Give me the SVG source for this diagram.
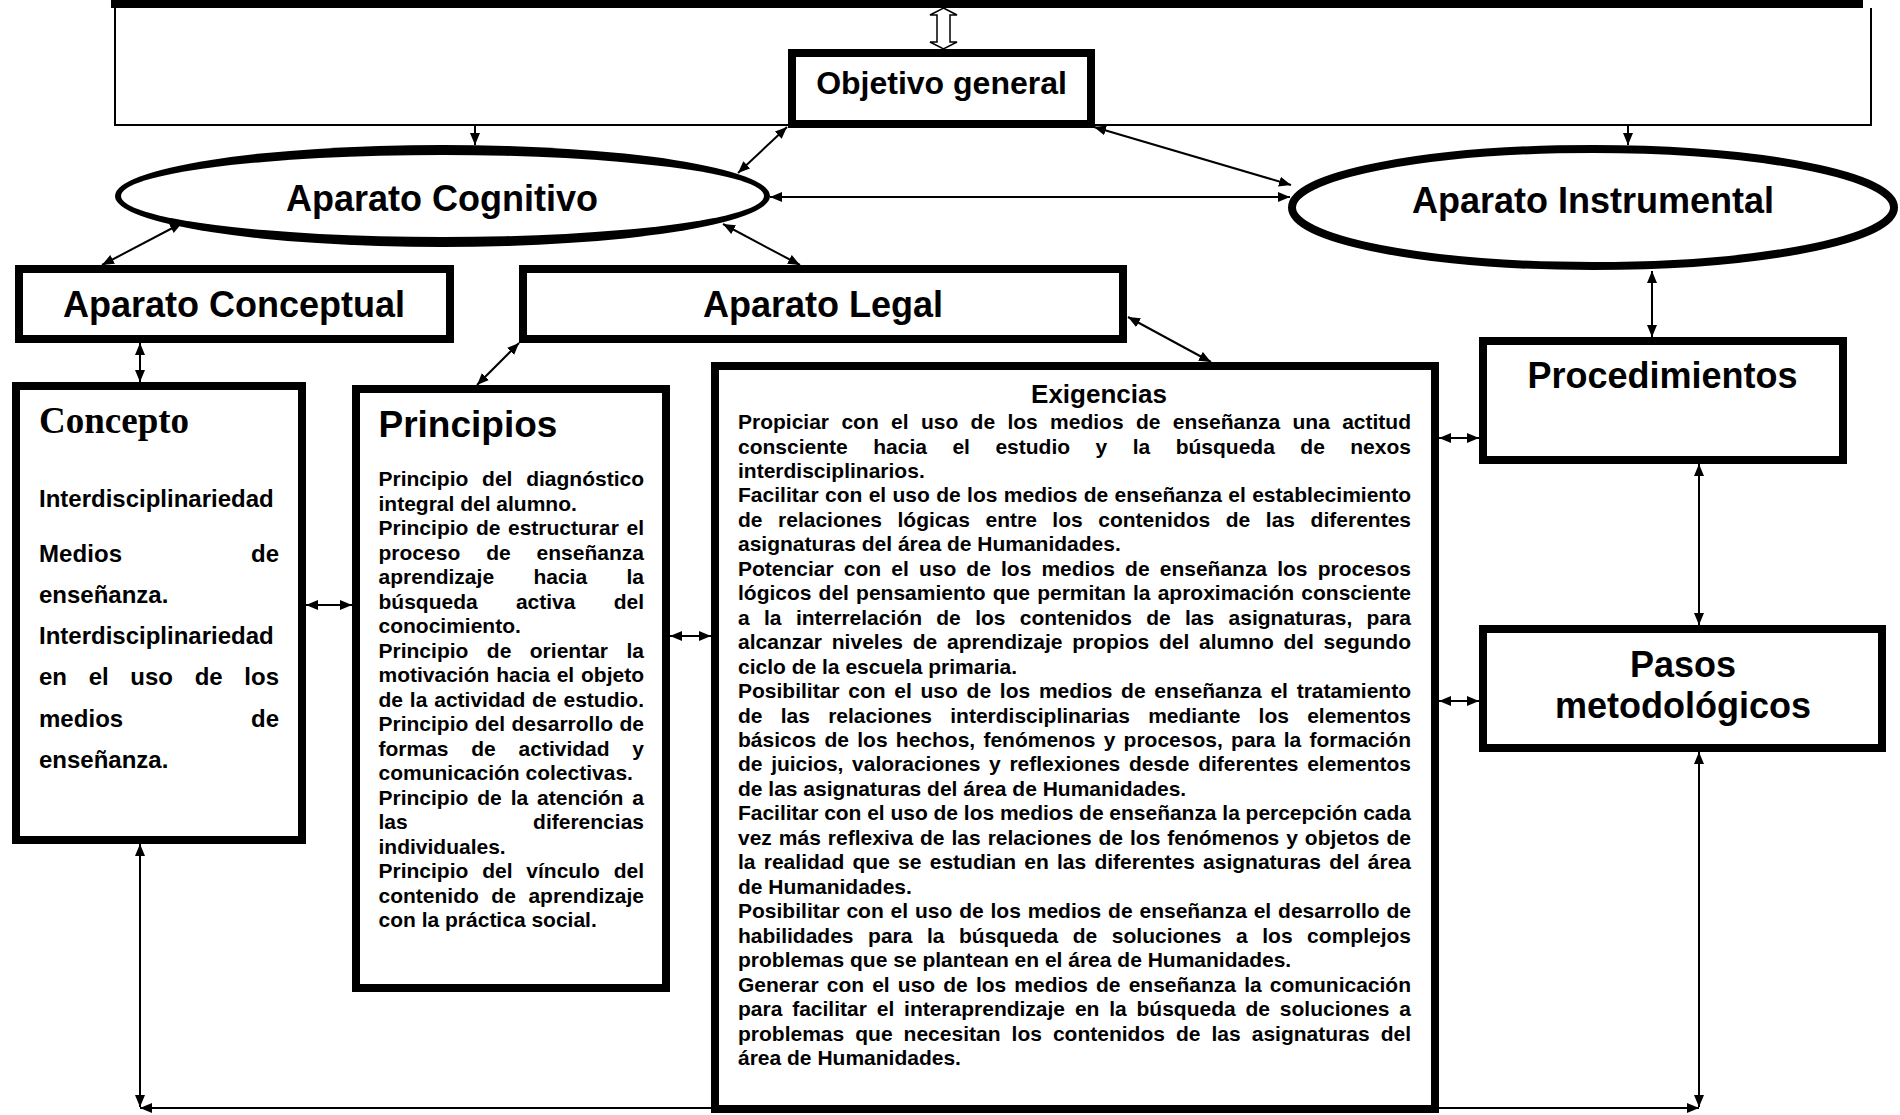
<svg xmlns="http://www.w3.org/2000/svg" width="1900" height="1115" viewBox="0 0 1900 1115">
<style>
.t{font-family:"Liberation Sans",Arial,sans-serif;font-weight:bold;fill:#000}
.h{font-size:36px}
.body{font-size:21px}
.con{font-size:24px}
.box{fill:#fff;stroke:#000;stroke-width:8}
.ell{fill:#fff;stroke:#000;stroke-width:8}
.c{stroke:#000;stroke-width:2;fill:none}
.cb{stroke:#000;stroke-width:2;fill:none;marker-start:url(#ah);marker-end:url(#ah)}
.ce{stroke:#000;stroke-width:2;fill:none;marker-end:url(#ah)}
</style>
<defs>
<marker id="ah" viewBox="0 0 12 10" refX="12" refY="5" markerWidth="12" markerHeight="10" markerUnits="userSpaceOnUse" orient="auto-start-reverse">
<path d="M0,0 L12,5 L0,10 z" fill="#000"/>
</marker>
</defs>
<rect width="1900" height="1115" fill="#fff"/>

<g id="connectors">
<path class="c" d="M115,8 V125 H1871 V8" stroke-width="1.5"/>
<line class="ce" x1="475" y1="125" x2="475" y2="145"/>
<line class="ce" x1="1628" y1="125" x2="1628" y2="145"/>
<polygon points="943.5,8 957,15 950,15 950,42 957,42 943.5,49 930,42 937,42 937,15 930,15" fill="#fff" stroke="#000" stroke-width="1.5"/>
<line class="cb" x1="738" y1="173" x2="787" y2="127"/>
<line class="cb" x1="1094" y1="127" x2="1291" y2="185"/>
<line class="cb" x1="770" y1="197" x2="1290" y2="197"/>
<line class="cb" x1="182" y1="223" x2="102" y2="265"/>
<line class="cb" x1="723" y1="224" x2="800" y2="265"/>
<line class="cb" x1="140" y1="343" x2="140" y2="382"/>
<line class="cb" x1="519" y1="343" x2="477" y2="385"/>
<line class="cb" x1="1128" y1="317" x2="1211" y2="362"/>
<line class="cb" x1="306" y1="605" x2="352" y2="605"/>
<line class="cb" x1="670" y1="636" x2="711" y2="636"/>
<line class="cb" x1="1439" y1="438" x2="1479" y2="438"/>
<line class="cb" x1="1439" y1="701" x2="1479" y2="701"/>
<line class="cb" x1="1652" y1="271" x2="1652" y2="337"/>
<line class="cb" x1="1699" y1="464" x2="1699" y2="625"/>
<line class="cb" x1="140" y1="844" x2="140" y2="1107"/>
<line class="cb" x1="140" y1="1108" x2="1699" y2="1108"/>
<line class="cb" x1="1699" y1="752" x2="1699" y2="1107"/>
</g>

<g id="top-box">
<rect x="111" y="0" width="1752" height="8" fill="#000"/>
</g>

<g id="objetivo-general">
<rect class="box" x="792" y="53" width="299" height="71"/>
<text class="t" x="941.5" y="94" font-size="32" text-anchor="middle">Objetivo general</text>
</g>

<g id="aparato-cognitivo">
<ellipse cx="442.5" cy="196" rx="327.5" ry="51" fill="#000"/>
<ellipse cx="442.5" cy="196" rx="321.5" ry="41" fill="#fff"/>
<text class="t h" x="442" y="211" text-anchor="middle">Aparato Cognitivo</text>
</g>

<g id="aparato-instrumental">
<ellipse class="ell" cx="1593" cy="207.5" rx="301" ry="58.5"/>
<text class="t h" x="1593" y="213" text-anchor="middle">Aparato Instrumental</text>
</g>

<g id="aparato-conceptual">
<rect class="box" x="19" y="269" width="431" height="70"/>
<text class="t h" x="234" y="317" text-anchor="middle">Aparato Conceptual</text>
</g>

<g id="aparato-legal">
<rect class="box" x="523" y="269" width="600" height="70"/>
<text class="t h" x="823" y="317" text-anchor="middle">Aparato Legal</text>
</g>

<g id="concepto">
<rect class="box" x="16" y="386" width="286" height="454"/>
<text x="39" y="433" font-family="'Liberation Serif','Times New Roman',serif" font-weight="bold" font-size="37">Concepto</text>
<text class="t con" x="39" y="507">Interdisciplinariedad</text>
<text class="t con" x="39" y="562" word-spacing="122" textLength="240" lengthAdjust="spacing">Medios de</text>
<text class="t con" x="39" y="603">enseñanza.</text>
<text class="t con" x="39" y="644">Interdisciplinariedad</text>
<text class="t con" x="39" y="685" word-spacing="15" textLength="240" lengthAdjust="spacing">en el uso de los</text>
<text class="t con" x="39" y="727" word-spacing="121" textLength="240" lengthAdjust="spacing">medios de</text>
<text class="t con" x="39" y="768">enseñanza.</text>
</g>

<g id="principios">
<rect class="box" x="356" y="389" width="310" height="599"/>
<text class="t" x="378.5" y="437" font-size="37">Principios</text>
<text class="t body" x="378.5" y="486" word-spacing="7.9" textLength="265.5" lengthAdjust="spacing">Principio del diagnóstico</text>
<text class="t body" x="378.5" y="510.5">integral del alumno.</text>
<text class="t body" x="378.5" y="535" word-spacing="1.7" textLength="265.5" lengthAdjust="spacing">Principio de estructurar el</text>
<text class="t body" x="378.5" y="559.5" word-spacing="20" textLength="265.5" lengthAdjust="spacing">proceso de enseñanza</text>
<text class="t body" x="378.5" y="584" word-spacing="33.5" textLength="265.5" lengthAdjust="spacing">aprendizaje hacia la</text>
<text class="t body" x="378.5" y="608.5" word-spacing="32.4" textLength="265.5" lengthAdjust="spacing">búsqueda activa del</text>
<text class="t body" x="378.5" y="633">conocimiento.</text>
<text class="t body" x="378.5" y="657.5" word-spacing="12.6" textLength="265.5" lengthAdjust="spacing">Principio de orientar la</text>
<text class="t body" x="378.5" y="682" word-spacing="1" textLength="265.5" lengthAdjust="spacing">motivación hacia el objeto</text>
<text class="t body" x="378.5" y="706.5" word-spacing="1" textLength="265.5" lengthAdjust="spacing">de la actividad de estudio.</text>
<text class="t body" x="378.5" y="731" word-spacing="0.6" textLength="265.5" lengthAdjust="spacing">Principio del desarrollo de</text>
<text class="t body" x="378.5" y="755.5" word-spacing="16.9" textLength="265.5" lengthAdjust="spacing">formas de actividad y</text>
<text class="t body" x="378.5" y="780">comunicación colectivas.</text>
<text class="t body" x="378.5" y="804.5" word-spacing="3.1" textLength="265.5" lengthAdjust="spacing">Principio de la atención a</text>
<text class="t body" x="378.5" y="829" word-spacing="119.6" textLength="265.5" lengthAdjust="spacing">las diferencias</text>
<text class="t body" x="378.5" y="853.5">individuales.</text>
<text class="t body" x="378.5" y="878" word-spacing="8" textLength="265.5" lengthAdjust="spacing">Principio del vínculo del</text>
<text class="t body" x="378.5" y="902.5" word-spacing="6.7" textLength="265.5" lengthAdjust="spacing">contenido de aprendizaje</text>
<text class="t body" x="378.5" y="927">con la práctica social.</text>
</g>

<g id="exigencias">
<rect class="box" x="715" y="366" width="720" height="743"/>
<text class="t" x="1099" y="403" font-size="26" text-anchor="middle">Exigencias</text>
<text class="t body" x="738" y="429" word-spacing="6.5" textLength="673" lengthAdjust="spacing">Propiciar con el uso de los medios de enseñanza una actitud</text>
<text class="t body" x="738" y="453.5" word-spacing="19.6" textLength="673" lengthAdjust="spacing">consciente hacia el estudio y la búsqueda de nexos</text>
<text class="t body" x="738" y="477.9">interdisciplinarios.</text>
<text class="t body" x="738" y="502.4" word-spacing="0.5" textLength="673" lengthAdjust="spacing">Facilitar con el uso de los medios de enseñanza el establecimiento</text>
<text class="t body" x="738" y="526.8" word-spacing="9.7" textLength="673" lengthAdjust="spacing">de relaciones lógicas entre los contenidos de las diferentes</text>
<text class="t body" x="738" y="551.3">asignaturas del área de Humanidades.</text>
<text class="t body" x="738" y="575.8" word-spacing="4.3" textLength="673" lengthAdjust="spacing">Potenciar con el uso de los medios de enseñanza los procesos</text>
<text class="t body" x="738" y="600.2" word-spacing="1.3" textLength="673" lengthAdjust="spacing">lógicos del pensamiento que permitan la aproximación consciente</text>
<text class="t body" x="738" y="624.7" word-spacing="8.5" textLength="673" lengthAdjust="spacing">a la interrelación de los contenidos de las asignaturas, para</text>
<text class="t body" x="738" y="649.1" word-spacing="3.9" textLength="673" lengthAdjust="spacing">alcanzar niveles de aprendizaje propios del alumno del segundo</text>
<text class="t body" x="738" y="673.6">ciclo de la escuela primaria.</text>
<text class="t body" x="738" y="698.1" word-spacing="2.9" textLength="673" lengthAdjust="spacing">Posibilitar con el uso de los medios de enseñanza el tratamiento</text>
<text class="t body" x="738" y="722.5" word-spacing="12.4" textLength="673" lengthAdjust="spacing">de las relaciones interdisciplinarias mediante los elementos</text>
<text class="t body" x="738" y="747" word-spacing="2.4" textLength="673" lengthAdjust="spacing">básicos de los hechos, fenómenos y procesos, para la formación</text>
<text class="t body" x="738" y="771.4" word-spacing="2.8" textLength="673" lengthAdjust="spacing">de juicios, valoraciones y reflexiones desde diferentes elementos</text>
<text class="t body" x="738" y="795.9">de las asignaturas del área de Humanidades.</text>
<text class="t body" x="738" y="820.4" textLength="673" lengthAdjust="spacing">Facilitar con el uso de los medios de enseñanza la percepción cada</text>
<text class="t body" x="738" y="844.8" word-spacing="1.1" textLength="673" lengthAdjust="spacing">vez más reflexiva de las relaciones de los fenómenos y objetos de</text>
<text class="t body" x="738" y="869.3" word-spacing="2.4" textLength="673" lengthAdjust="spacing">la realidad que se estudian en las diferentes asignaturas del área</text>
<text class="t body" x="738" y="893.7">de Humanidades.</text>
<text class="t body" x="738" y="918.2" word-spacing="1" textLength="673" lengthAdjust="spacing">Posibilitar con el uso de los medios de enseñanza el desarrollo de</text>
<text class="t body" x="738" y="942.7" word-spacing="8.7" textLength="673" lengthAdjust="spacing">habilidades para la búsqueda de soluciones a los complejos</text>
<text class="t body" x="738" y="967.1">problemas que se plantean en el área de Humanidades.</text>
<text class="t body" x="738" y="991.6" word-spacing="2.3" textLength="673" lengthAdjust="spacing">Generar con el uso de los medios de enseñanza la comunicación</text>
<text class="t body" x="738" y="1016" word-spacing="4" textLength="673" lengthAdjust="spacing">para facilitar el interaprendizaje en la búsqueda de soluciones a</text>
<text class="t body" x="738" y="1040.5" word-spacing="5.2" textLength="673" lengthAdjust="spacing">problemas que necesitan los contenidos de las asignaturas del</text>
<text class="t body" x="738" y="1065">área de Humanidades.</text>
</g>

<g id="procedimientos">
<rect class="box" x="1483" y="341" width="360" height="119"/>
<text class="t h" x="1662.5" y="388" text-anchor="middle">Procedimientos</text>
</g>

<g id="pasos-metodologicos">
<rect class="box" x="1483" y="629" width="399" height="119"/>
<text class="t h" x="1683" y="677" text-anchor="middle">Pasos</text>
<text class="t h" x="1683" y="718" text-anchor="middle">metodológicos</text>
</g>
</svg>
